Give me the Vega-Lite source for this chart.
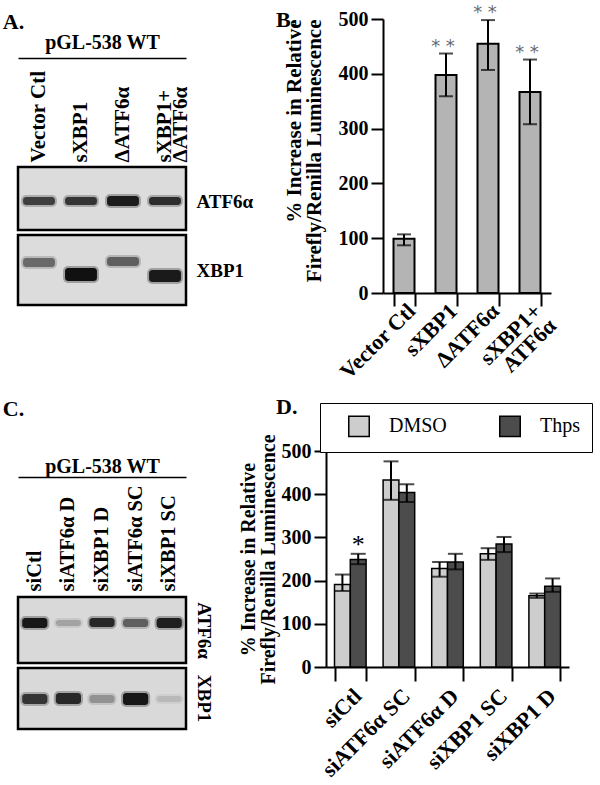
{
  "$schema": "https://vega.github.io/schema/vega-lite/v6.json",
  "background": "white",
  "padding": {"left": 2, "top": 4, "right": 0, "bottom": 0},
  "config": {
    "font": "Liberation Serif",
    "view": {"stroke": null},
    "axis": {
      "labelFont": "Liberation Serif", "labelFontWeight": "bold", "labelFontSize": 20, "labelColor": "black",
      "titleFont": "Liberation Serif", "titleFontWeight": "bold", "titleFontSize": 20, "titleColor": "black",
      "domainColor": "black", "tickColor": "black", "domainWidth": 2, "tickWidth": 2, "grid": false
    },
    "title": {"font": "Liberation Serif", "fontWeight": "bold", "fontSize": 22, "color": "black"}
  },
  "datasets": {
    "gelABoxes": [
      {"gel": "ATF6α", "top": 0, "bottom": 63},
      {"gel": "XBP1", "top": 68, "bottom": 138}
    ],
    "gelABands": [
      {"gel": "ATF6α", "lane": "Vector Ctl", "top": 30, "bottom": 38, "intensity": 0.72},
      {"gel": "ATF6α", "lane": "sXBP1", "top": 30, "bottom": 38, "intensity": 0.78},
      {"gel": "ATF6α", "lane": "ΔATF6α", "top": 29, "bottom": 39, "intensity": 0.92},
      {"gel": "ATF6α", "lane": "sXBP1+ΔATF6α", "top": 30, "bottom": 38, "intensity": 0.82},
      {"gel": "XBP1", "lane": "Vector Ctl", "top": 91, "bottom": 100, "intensity": 0.5},
      {"gel": "XBP1", "lane": "sXBP1", "top": 101, "bottom": 114, "intensity": 0.98},
      {"gel": "XBP1", "lane": "ΔATF6α", "top": 90, "bottom": 99, "intensity": 0.55},
      {"gel": "XBP1", "lane": "sXBP1+ΔATF6α", "top": 103, "bottom": 115, "intensity": 0.93}
    ],
    "gelCBoxes": [
      {"gel": "ATF6α", "top": 0, "bottom": 66},
      {"gel": "XBP1", "top": 71, "bottom": 132}
    ],
    "gelCBands": [
      {"gel": "ATF6α", "lane": "siCtl", "top": 21, "bottom": 31, "intensity": 0.95},
      {"gel": "ATF6α", "lane": "siATF6α D", "top": 23, "bottom": 29, "intensity": 0.22},
      {"gel": "ATF6α", "lane": "siXBP1 D", "top": 21, "bottom": 30, "intensity": 0.85},
      {"gel": "ATF6α", "lane": "siATF6α SC", "top": 22, "bottom": 30, "intensity": 0.55},
      {"gel": "ATF6α", "lane": "siXBP1 SC", "top": 21, "bottom": 31, "intensity": 0.9},
      {"gel": "XBP1", "lane": "siCtl", "top": 97, "bottom": 107, "intensity": 0.78},
      {"gel": "XBP1", "lane": "siATF6α D", "top": 96, "bottom": 107, "intensity": 0.85},
      {"gel": "XBP1", "lane": "siXBP1 D", "top": 98, "bottom": 106, "intensity": 0.3},
      {"gel": "XBP1", "lane": "siATF6α SC", "top": 96, "bottom": 108, "intensity": 0.95},
      {"gel": "XBP1", "lane": "siXBP1 SC", "top": 99, "bottom": 105, "intensity": 0.12}
    ],
    "barsB": [
      {"cond": "Vector Ctl", "value": 99, "lo": 87, "hi": 107, "sig": ""},
      {"cond": "sXBP1", "value": 398, "lo": 359, "hi": 437, "sig": "* *"},
      {"cond": "ΔATF6α", "value": 455, "lo": 407, "hi": 498, "sig": "* *"},
      {"cond": "sXBP1+ATF6α", "value": 367, "lo": 308, "hi": 426, "sig": "* *"}
    ],
    "barsD": [
      {"group": "siCtl", "treatment": "DMSO", "value": 191, "lo": 176, "hi": 214, "sig": ""},
      {"group": "siCtl", "treatment": "Thps", "value": 249, "lo": 238, "hi": 262, "sig": "*"},
      {"group": "siATF6α SC", "treatment": "DMSO", "value": 433, "lo": 387, "hi": 476, "sig": ""},
      {"group": "siATF6α SC", "treatment": "Thps", "value": 404, "lo": 382, "hi": 423, "sig": ""},
      {"group": "siATF6α D", "treatment": "DMSO", "value": 228, "lo": 209, "hi": 243, "sig": ""},
      {"group": "siATF6α D", "treatment": "Thps", "value": 243, "lo": 226, "hi": 262, "sig": ""},
      {"group": "siXBP1 SC", "treatment": "DMSO", "value": 262, "lo": 248, "hi": 275, "sig": ""},
      {"group": "siXBP1 SC", "treatment": "Thps", "value": 285, "lo": 266, "hi": 301, "sig": ""},
      {"group": "siXBP1 D", "treatment": "DMSO", "value": 165, "lo": 160, "hi": 170, "sig": ""},
      {"group": "siXBP1 D", "treatment": "Thps", "value": 187, "lo": 174, "hi": 205, "sig": ""}
    ]
  },
  "resolve": {"scale": {"color": "independent", "fill": "independent", "stroke": "independent"}},
  "spacing": 11,
  "vconcat": [
    {
      "hconcat": [
        {
          "width": 168, "height": 286,
          "title": {"text": "A.", "anchor": "start", "frame": "bounds", "dx": -14, "offset": -15},
          "encoding": {
            "y": {"field": "top", "type": "quantitative",
              "scale": {"domain": [-148, 138], "reverse": true, "nice": false, "zero": false},
              "axis": {"orient": "right", "values": [34, 103], "labelExpr": "datum.value < 70 ? 'ATF6α' : 'XBP1'",
                "domain": false, "ticks": false, "labelPadding": 10, "title": null, "labelFontSize": 19}},
            "y2": {"field": "bottom"}
          },
          "layer": [
            {"data": {"name": "gelABoxes"},
             "mark": {"type": "rect", "fill": "#dcdcdc", "stroke": "black", "strokeWidth": 2.5}},
            {"data": {"name": "gelABands"},
             "mark": {"type": "rect", "cornerRadius": 3, "strokeWidth": 4, "strokeOpacity": 0.3},
             "encoding": {
               "x": {"field": "lane", "type": "nominal", "sort": null,
                 "scale": {"domain": ["Vector Ctl", "sXBP1", "ΔATF6α", "sXBP1+ΔATF6α"], "paddingInner": 0.24, "paddingOuter": 0.12},
                 "axis": {"orient": "top", "title": "pGL-538 WT", "titlePadding": 6, "titleFontSize": 20, "offset": -39,
                   "labelAngle": -90, "labelAlign": "left", "labelBaseline": "middle", "labelPadding": -104, "labelFontSize": 21,
                   "ticks": false, "tickSize": 0, "domain": true, "domainWidth": 1.5, "labelLineHeight": 16, "labelOverlap": false,
                   "labelExpr": "datum.value == 'sXBP1+ΔATF6α' ? ['sXBP1+', 'ΔATF6α'] : datum.value"}},
               "fill": {"field": "intensity", "type": "quantitative", "scale": {"domain": [0, 1], "range": ["#d4d4d4", "#0d0d0d"]}, "legend": null},
               "stroke": {"field": "intensity", "type": "quantitative", "scale": {"domain": [0, 1], "range": ["#d4d4d4", "#0d0d0d"]}, "legend": null}
             }}
          ]
        },
        {
          "width": 168, "height": 274,
          "title": {"text": "B.", "anchor": "start", "frame": "bounds", "offset": -28, "dx": -7},
          "data": {"name": "barsB"},
          "encoding": {
            "x": {"field": "cond", "type": "nominal", "sort": null,
              "scale": {"paddingInner": 0.5, "paddingOuter": 0.25},
              "axis": {"title": null, "labelAngle": -45, "tickBand": "extent", "tickSize": 13, "labelPadding": -6,
                "labelLineHeight": 21, "labelFontSize": 22,
                "labelExpr": "datum.value == 'sXBP1+ATF6α' ? ['sXBP1+', 'ATF6α'] : datum.value"}}
          },
          "layer": [
            {"mark": {"type": "bar", "fill": "#b4b4b4", "stroke": "black", "strokeWidth": 2},
             "encoding": {"y": {"field": "value", "type": "quantitative", "scale": {"domain": [0, 500], "nice": false},
               "axis": {"values": [0, 100, 200, 300, 400, 500], "tickSize": 12, "labelPadding": 3, "labelFontSize": 20,
                 "title": ["% Increase in Relative", "Firefly/Renilla Luminescence"], "titleAnchor": "end",
                 "titlePadding": 14, "titleLineHeight": 20, "titleFontSize": 21}}}},
            {"mark": {"type": "rule", "strokeWidth": 2, "color": "black"},
             "encoding": {"y": {"field": "lo", "type": "quantitative"}, "y2": {"field": "hi"}}},
            {"mark": {"type": "tick", "size": 14, "thickness": 2, "color": "black"},
             "encoding": {"y": {"field": "hi", "type": "quantitative"}}},
            {"mark": {"type": "tick", "size": 14, "thickness": 2, "color": "black"},
             "encoding": {"y": {"field": "lo", "type": "quantitative"}}},
            {"mark": {"type": "text", "baseline": "bottom", "dy": 2, "dx": -3, "fontSize": 18, "color": "#6a6a6a", "font": "DejaVu Sans"},
             "encoding": {"y": {"field": "hi", "type": "quantitative"}, "text": {"field": "sig"}}}
          ]
        }
      ],
      "spacing": 22,
      "resolve": {"scale": {"color": "independent", "fill": "independent", "stroke": "independent"}}
    },
    {
      "hconcat": [
        {
          "width": 168, "height": 278,
          "title": {"text": "C.", "anchor": "start", "frame": "bounds", "dx": -14, "offset": 30},
          "encoding": {
            "y": {"field": "top", "type": "quantitative",
              "scale": {"domain": [-146, 132], "reverse": true, "nice": false, "zero": false},
              "axis": {"orient": "right", "values": [33, 101], "labelExpr": "datum.value < 68 ? 'ATF6α' : 'XBP1'",
                "domain": false, "ticks": false, "labelPadding": 7, "title": null, "labelFontSize": 19,
                "labelAngle": 90, "labelAlign": "center", "labelBaseline": "bottom"}},
            "y2": {"field": "bottom"}
          },
          "layer": [
            {"data": {"name": "gelCBoxes"},
             "mark": {"type": "rect", "fill": "#d9d9d9", "stroke": "black", "strokeWidth": 2.5}},
            {"data": {"name": "gelCBands"},
             "mark": {"type": "rect", "cornerRadius": 3, "strokeWidth": 4, "strokeOpacity": 0.3},
             "encoding": {
               "x": {"field": "lane", "type": "nominal", "sort": null,
                 "scale": {"domain": ["siCtl", "siATF6α D", "siXBP1 D", "siATF6α SC", "siXBP1 SC"], "paddingInner": 0.25, "paddingOuter": 0.125},
                 "axis": {"orient": "top", "title": "pGL-538 WT", "titlePadding": 1, "titleFontSize": 20, "offset": -26,
                   "labelAngle": -90, "labelAlign": "left", "labelBaseline": "middle", "labelPadding": -114, "labelFontSize": 20.5,
                   "ticks": false, "tickSize": 0, "domain": true, "domainWidth": 1.5, "labelOverlap": false}},
               "fill": {"field": "intensity", "type": "quantitative", "scale": {"domain": [0, 1], "range": ["#d4d4d4", "#0d0d0d"]}, "legend": null},
               "stroke": {"field": "intensity", "type": "quantitative", "scale": {"domain": [0, 1], "range": ["#d4d4d4", "#0d0d0d"]}, "legend": null}
             }}
          ]
        },
        {
          "width": 243, "height": 216,
          "title": {"text": "D.", "anchor": "start", "frame": "bounds", "dx": 38, "offset": -16},
          "data": {"name": "barsD"},
          "encoding": {
            "x": {"field": "group", "type": "nominal", "sort": null,
              "scale": {"paddingInner": 0.35, "paddingOuter": 0.175},
              "axis": {"title": null, "labelAngle": -45, "tickBand": "extent", "tickSize": 14, "labelPadding": 4, "labelFontSize": 22}},
            "xOffset": {"field": "treatment", "type": "nominal", "scale": {"domain": ["DMSO", "Thps"]}}
          },
          "layer": [
            {"mark": {"type": "bar", "stroke": "black", "strokeWidth": 1.5},
             "encoding": {
               "y": {"field": "value", "type": "quantitative", "scale": {"domain": [0, 500], "nice": false},
                 "axis": {"values": [0, 100, 200, 300, 400, 500], "tickSize": 12, "labelPadding": 3, "labelFontSize": 20,
                   "title": ["% Increase in Relative", "Firefly/Renilla Luminescence"], "titlePadding": 3, "titleLineHeight": 20, "titleFontSize": 20}},
               "color": {"field": "treatment", "type": "nominal",
                 "scale": {"domain": ["DMSO", "Thps"], "range": ["#cdcdcd", "#4c4c4c"]},
                 "legend": {"orient": "none", "legendX": -6, "legendY": -48, "direction": "horizontal", "title": null,
                   "symbolType": "square", "symbolSize": 420, "symbolStrokeColor": "black", "symbolStrokeWidth": 1.5,
                   "labelFont": "Liberation Serif", "labelFontSize": 20, "labelFontWeight": "normal", "labelColor": "black",
                   "labelOffset": 19, "columnPadding": 36, "padding": 12, "symbolOffset": 16, "gridAlign": "all",
                   "strokeColor": "black", "fillColor": "white"}}
             }},
            {"mark": {"type": "rule", "strokeWidth": 2, "color": "black"},
             "encoding": {"y": {"field": "lo", "type": "quantitative"}, "y2": {"field": "hi"}}},
            {"mark": {"type": "tick", "size": 15, "thickness": 2, "color": "black"},
             "encoding": {"y": {"field": "hi", "type": "quantitative"}}},
            {"mark": {"type": "tick", "size": 15, "thickness": 2, "color": "black"},
             "encoding": {"y": {"field": "lo", "type": "quantitative"}}},
            {"mark": {"type": "text", "baseline": "bottom", "dy": 4, "fontSize": 26, "color": "black", "font": "Liberation Serif"},
             "encoding": {"y": {"field": "hi", "type": "quantitative"}, "text": {"field": "sig"}}}
          ]
        }
      ],
      "spacing": 25,
      "resolve": {"scale": {"color": "independent", "fill": "independent", "stroke": "independent"}}
    }
  ]
}
